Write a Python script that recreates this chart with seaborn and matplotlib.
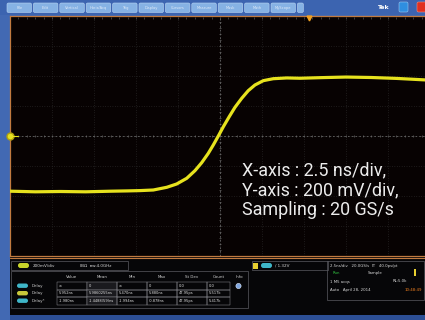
import numpy as np
import pandas as pd
import matplotlib
matplotlib.use("Agg")
import matplotlib.pyplot as plt
from matplotlib.patches import Rectangle, FancyBboxPatch, Circle
import seaborn as sns

# Captured step response (time in ns, amplitude in mV)
time_ns = [-12.5, -11.0, -9.5, -8.0, -6.5, -5.5, -4.76, -3.97, -3.17, -2.58,
           -1.98, -1.49, -1.09, -0.70, -0.40, -0.10, 0.20, 0.55, 0.89, 1.29,
           1.68, 2.08, 2.58, 3.17, 3.97, 4.76, 6.0, 7.5, 9.0, 10.5, 12.2, 12.5]
volt_mv = [-368, -372, -370, -372, -368, -366, -364, -360, -342, -320,
           -282, -231, -178, -116, -60, 0, 62, 129, 191, 251,
           302, 340, 369, 382, 387, 385, 389, 393, 390, 384, 374, 372]

settings_lines = ["X-axis : 2.5 ns/div,", "Y-axis : 200 mV/div,", "Sampling : 20 GS/s"]

menu_tabs = ["File", "Edit", "Vertical", "Horiz/Acq", "Trig", "Display",
             "Cursors", "Measure", "Mask", "Math", "MyScope", ""]

meas_header = ["Value", "Mean", "Min", "Max", "St Dev", "Count", "Info"]
meas_rows = [
    ["\u221e", "0", "\u221e", "0", "0.0", "0.0", ""],
    ["5.952ns", "5.9860255ns", "5.470ns", "5.880ns", "47.95ps", "5.517k", ""],
    ["-1.980ns", "-1.4488(59)ns", "-1.994ns", "-0.878ns", "47.95ps", "5.417k", ""],
]
row_names = ["Delay", "Delay", "Delay*"]
row_pill_colors = ["#3fb6c8", "#c8c83a", "#3fb6c8"]

W, H = 425, 320
FRAME_BLUE = "#4269b3"
SCREEN_BG = "#070202"
TRACE = "#e6e21e"
BORDER = "#c07a40"

sns.set_theme(style="dark")
fig = plt.figure(figsize=(W / 100, H / 100), dpi=100, facecolor=FRAME_BLUE)

# ---- UI overlay in pixel coordinates ----
ui = fig.add_axes([0, 0, 1, 1], zorder=0)
ui.set_xlim(0, W)
ui.set_ylim(H, 0)
ui.axis("off")
ui.patch.set_alpha(0)

# top menu bar
ui.add_patch(Rectangle((0, 0), W, 15, color="#3c64b0", lw=0))
x0, pitch = 7, 26.4
for i, lab in enumerate(menu_tabs):
    w = 24.5 if lab else 6
    ui.add_patch(FancyBboxPatch((x0 + i * pitch, 3), w, 9.5,
                                boxstyle="round,pad=0,rounding_size=1.5",
                                fc="#86b2e4", ec="#b9d4f2", lw=0.4))
    if lab:
        ui.text(x0 + i * pitch + w / 2, 8, lab, fontsize=2.6, color="#dfeaf8",
                ha="center", va="center")
ui.text(383, 7.5, "Tek", fontsize=4.5, color="white", ha="center", va="center",
        fontweight="bold")
ui.add_patch(FancyBboxPatch((399, 2), 9, 10, boxstyle="round,pad=0,rounding_size=1.5",
                            fc="#2f8ee0", ec="#9cc8f0", lw=0.4))
ui.add_patch(FancyBboxPatch((417, 2), 9, 10, boxstyle="round,pad=0,rounding_size=1.5",
                            fc="#e03020", ec="#f09080", lw=0.4))

# bottom readout panel
ui.add_patch(Rectangle((10, 257), W - 10, 58, color="#060608", lw=0))
ui.add_patch(Rectangle((10, 315), W - 10, 5, color="#2c4f95", lw=0))
ui.plot([10, W], [257.5, 257.5], color=BORDER, lw=0.8)

# channel box
ui.add_patch(Rectangle((11, 261), 117, 9, fc="none", ec="#5a5a60", lw=0.5))
ui.add_patch(FancyBboxPatch((18, 263), 11, 5, boxstyle="round,pad=0,rounding_size=2.4",
                            fc="#c8d42a", ec="none"))
ui.text(33, 265.7, "200mV/div", fontsize=3, color="#d8d8d8", va="center")
ui.text(80, 265.7, "IBΩ  \u0299w:4.0GHz", fontsize=3, color="#d8d8d8", va="center")

# measurement table
col_edges = [57, 87, 117, 147, 177, 207, 230, 248]
ui.add_patch(Rectangle((11, 271), 237, 37, fc="none", ec="#5a5a60", lw=0.5))
for j, hd in enumerate(meas_header):
    ui.text((col_edges[j] + col_edges[j + 1]) / 2, 277.5, hd, fontsize=2.9,
            color="#d0d0d0", ha="center", va="center")
row_y = [282, 289.5, 297]
for r, (name, vals) in enumerate(zip(row_names, meas_rows)):
    yc = row_y[r] + 3.7
    ui.add_patch(FancyBboxPatch((17, yc - 2.2), 11, 4.4,
                                boxstyle="round,pad=0,rounding_size=2.2",
                                fc=row_pill_colors[r], ec="none"))
    ui.text(32, yc, name, fontsize=2.9, color="#d0d0d0", va="center")
    for j, v in enumerate(vals):
        if j == 6:
            continue
        ui.add_patch(Rectangle((col_edges[j], row_y[r]), col_edges[j + 1] - col_edges[j], 7.5,
                               fc="#1a1a1e" if j == 1 else "none", ec="#8a8a90", lw=0.35))
        ui.text(col_edges[j] + 1.5, yc, v, fontsize=2.6, color="#e0e0e0", va="center")
ui.add_patch(Circle((238.5, 286), 2.6, fc="#7fa6e0", ec="#dfe9f8", lw=0.4))

# trigger box
ui.add_patch(Rectangle((252, 261), 76, 9, fc="none", ec="#5a5a60", lw=0.5))
ui.add_patch(Rectangle((253.5, 262.5), 5, 6, fc="#e8d030", ec="none"))
ui.add_patch(FancyBboxPatch((261, 263), 11, 5, boxstyle="round,pad=0,rounding_size=2.4",
                            fc="#3fb6c8", ec="none"))
ui.text(275, 265.7, "\u2215 1.32V", fontsize=3, color="#d8d8d8", va="center")

# acquisition box
ui.add_patch(Rectangle((327, 261), 97, 39, fc="none", ec="#5a5a60", lw=0.5))
ui.text(330, 265.5, "2.5ns/div   20.0GS/s  IT   40.0ps/pt", fontsize=2.8,
        color="#d8d8d8", va="center")
ui.text(333, 273, "Run", fontsize=2.8, color="#30c040", va="center")
ui.text(368, 273, "Sample", fontsize=2.8, color="#d8d8d8", va="center")
ui.add_patch(Rectangle((414, 269), 2, 7, fc="#e8d030", ec="none"))
ui.text(330, 281.5, "1 M5 acqs", fontsize=2.8, color="#d8d8d8", va="center")
ui.text(393, 281.5, "RL:5.0k", fontsize=2.8, color="#d8d8d8", va="center")
ui.text(330, 290, "Auto   April 28, 2014", fontsize=2.8, color="#d8d8d8", va="center")
ui.text(405, 290, "10:48:49", fontsize=2.8, color="#f08020", va="center")

# ---- scope screen ----
left_px, right_px, top_px, bot_px = 10, 430, 16, 256
ax = fig.add_axes([left_px / W, 1 - bot_px / H, (right_px - left_px) / W,
                   (bot_px - top_px) / H], zorder=1)
ax.set_facecolor(SCREEN_BG)
ax.set_xlim(-12.5, 12.5)
ax.set_ylim(-800, 800)

# graticule: 10 x 8 divisions, dotted
for xv in np.arange(-12.5, 12.6, 2.5):
    ax.axvline(xv, color="#333333", lw=0.5, ls=(0, (1, 2.5)), zorder=1)
for yv in np.arange(-800, 801, 200):
    ax.axhline(yv, color="#333333", lw=0.5, ls=(0, (1, 2.5)), zorder=1)
ax.axhline(0, color="#666666", lw=0.6, ls=(0, (2, 2.5)), zorder=1)
ax.axvline(0, color="#666666", lw=0.6, ls=(0, (2, 2.5)), zorder=1)
minor_t = np.arange(-12.5, 12.51, 0.5)
ax.plot(minor_t, np.zeros_like(minor_t), ls="none", marker="|", ms=2,
        color="#666666", mew=0.5, zorder=1)
minor_v = np.arange(-800, 801, 40)
ax.plot(np.zeros_like(minor_v), minor_v, ls="none", marker="_", ms=2,
        color="#666666", mew=0.5, zorder=1)
ax.plot(minor_t, np.full_like(minor_t, 790.0), ls="none", marker="|", ms=2,
        color="#555555", mew=0.5, zorder=1)

df = pd.DataFrame({"t_ns": time_ns, "v_mV": volt_mv})
sns.lineplot(data=df, x="t_ns", y="v_mV", ax=ax, color=TRACE, lw=2.3,
             estimator=None, sort=False, zorder=3)

for sp in ax.spines.values():
    sp.set_color(BORDER)
    sp.set_linewidth(0.9)
ax.set_xticks([])
ax.set_yticks([])
ax.set_xlabel("")
ax.set_ylabel("")

# channel ground marker and trigger position marker
ax.plot([-12.5], [0], marker="o", ms=5, color=TRACE, mec="#b0a010",
        clip_on=False, zorder=5)
ax.plot([-12.5, -12.0], [0, 0], color=TRACE, lw=0.8, clip_on=False, zorder=5)
ax.plot([5.3], [790], marker="v", ms=3.5, color="#f0a020", clip_on=False, zorder=5)

for i, line in enumerate(settings_lines):
    ax.text(1.31, -260 - i * 133, line, fontsize=12.9, color="#ececec",
            family=["Roboto", "DejaVu Sans"], va="baseline", zorder=6)

fig.savefig("out.png", dpi=100, facecolor=fig.get_facecolor())
